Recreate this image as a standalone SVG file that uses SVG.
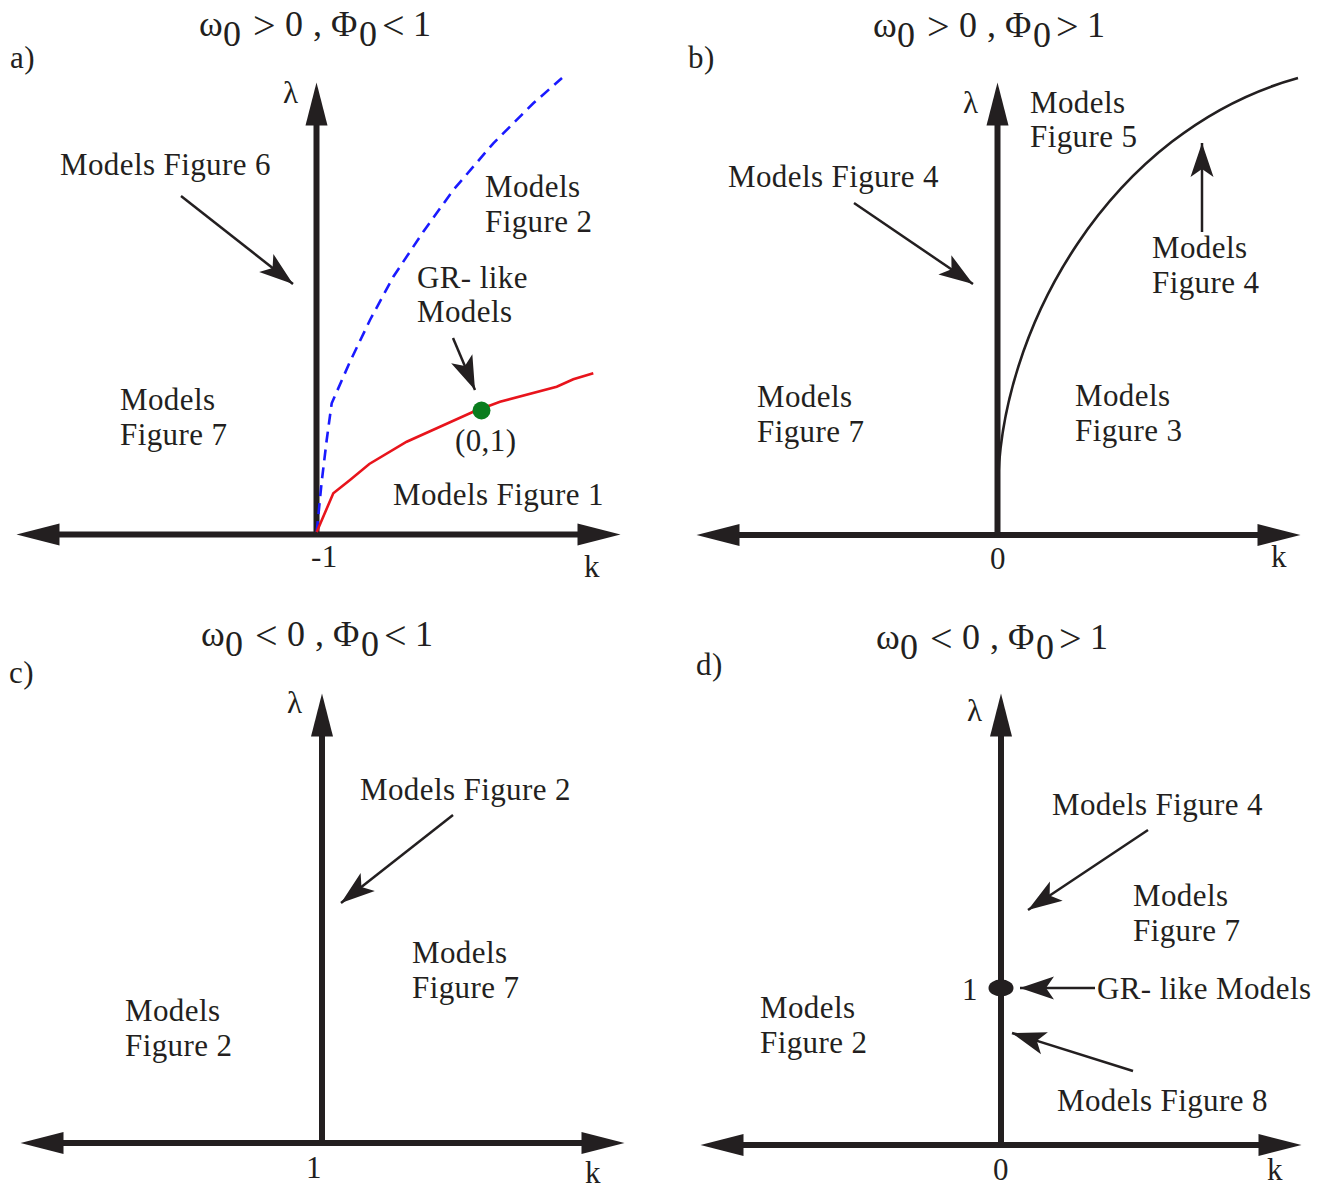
<svg xmlns="http://www.w3.org/2000/svg" width="1330" height="1190" viewBox="0 0 1330 1190">
<style>
text{font-family:"Liberation Serif","Times New Roman",serif;fill:#231f20}
.t{font-size:31px;letter-spacing:0.4px}
.ti{font-size:36px}
.op{font-size:40px}
.ax{stroke:#231f20;stroke-width:6;fill:none;marker-start:url(#axh);marker-end:url(#axh)}
.vx{stroke:#231f20;stroke-width:6;fill:none;marker-end:url(#axh)}
.pt{stroke:#231f20;stroke-width:2.5;fill:none;marker-end:url(#pth)}
</style>
<defs>
<marker id="axh" markerUnits="userSpaceOnUse" viewBox="-1 -12 45 24" markerWidth="45" markerHeight="24" refX="0.5" refY="0" orient="auto-start-reverse">
<path d="M0,-11 L43,0 L0,11 Z" fill="#231f20"/>
</marker>
<marker id="pth" markerUnits="userSpaceOnUse" viewBox="-2 -13 40 26" markerWidth="40" markerHeight="26" refX="34" refY="0" orient="auto">
<path d="M34,0 L0,-11.5 L8,0 L0,11.5 Z" fill="#231f20"/>
</marker>
<g id="title-tpl">
<text class="ti" x="0" y="0">ω</text>
<text class="ti" x="24" y="10">0</text>
<text class="ti" x="86" y="0">0</text>
<text class="ti" x="114" y="0">,</text>
<text class="ti" x="132" y="0">Φ</text>
<text class="ti" x="160" y="10">0</text>
<text class="ti" x="214" y="0">1</text>
</g>
</defs>
<rect width="1330" height="1190" fill="#ffffff"/>

<g id="connectors">
<!-- panel a axes -->
<line class="ax" x1="59" y1="534.5" x2="578" y2="534.5"/>
<line class="vx" x1="316.5" y1="537" x2="316.5" y2="125"/>
<!-- panel b axes -->
<line class="ax" x1="739" y1="535" x2="1258" y2="535"/>
<line class="vx" x1="997.5" y1="538" x2="997.5" y2="125"/>
<!-- panel c axes -->
<line class="ax" x1="63" y1="1143" x2="582" y2="1143"/>
<line class="vx" x1="322" y1="1146" x2="322" y2="736"/>
<!-- panel d axes -->
<line class="ax" x1="743" y1="1145" x2="1259" y2="1145"/>
<line class="vx" x1="1001" y1="1148" x2="1001" y2="736"/>

<!-- panel a curves -->
<polyline points="316.7,532 321.7,481.7 326.7,440 331.7,403.3 350,361.7 370,320 393.3,276.7 423.3,231.7 453.3,190 493.3,143.3 533.3,103.3 562,78" fill="none" stroke="#1a1aff" stroke-width="2.6" stroke-dasharray="11,7"/>
<polyline points="316.7,532 333.3,493.3 350,480 369.3,464 406.7,441.7 436.7,428.3 473.3,411.7 500,401.7 556.7,386.7 573.3,379.3 593.3,373.3" fill="none" stroke="#e8141c" stroke-width="2.6"/>
<!-- panel b curve -->
<path d="M998,492 C998,330 1110,130 1298,78" fill="none" stroke="#231f20" stroke-width="2.6"/>

<!-- pointer arrows -->
<line class="pt" x1="181" y1="196" x2="293" y2="284"/>
<line class="pt" x1="453" y1="338" x2="475" y2="390"/>
<line class="pt" x1="854" y1="203" x2="973" y2="284"/>
<line class="pt" x1="1202" y1="232" x2="1202" y2="143"/>
<line class="pt" x1="453" y1="815" x2="341" y2="903"/>
<line class="pt" x1="1148" y1="830" x2="1028" y2="910"/>
<line class="pt" x1="1095" y1="988" x2="1020" y2="988"/>
<line class="pt" x1="1133" y1="1071" x2="1012" y2="1033"/>
</g>

<!-- Panel a -->
<g id="panel-a">
<text class="t" x="10" y="68">a)</text>
<g id="title-a" transform="translate(199,36)">
<use href="#title-tpl"/>
<text class="op" x="54" y="3">&gt;</text>
<text class="op" x="183" y="3">&lt;</text>
</g>
<text class="t" x="283" y="103">λ</text>
<g id="a-fig6"><text class="t" x="60" y="175">Models Figure 6</text></g>
<g id="a-fig2"><text class="t" x="485" y="197">Models</text><text class="t" x="485" y="232">Figure 2</text></g>
<g id="a-gr"><text class="t" x="417" y="288">GR- like</text><text class="t" x="417" y="322">Models</text></g>
<g id="a-fig7"><text class="t" x="120" y="410">Models</text><text class="t" x="120" y="445">Figure 7</text></g>
<g id="a-point"><circle cx="481.5" cy="410.5" r="9" fill="#0a7d1e"/><text class="t" x="455" y="451">(0,1)</text></g>
<g id="a-fig1"><text class="t" x="393" y="505">Models Figure 1</text></g>
<text class="t" x="311" y="567">-1</text>
<text class="t" x="584" y="577">k</text>
</g>

<!-- Panel b -->
<g id="panel-b">
<text class="t" x="688" y="68">b)</text>
<g id="title-b" transform="translate(873,37)">
<use href="#title-tpl"/>
<text class="op" x="54" y="3">&gt;</text>
<text class="op" x="183" y="3">&gt;</text>
</g>
<text class="t" x="963" y="113">λ</text>
<g id="b-fig5"><text class="t" x="1030" y="113">Models</text><text class="t" x="1030" y="147">Figure 5</text></g>
<g id="b-fig4a"><text class="t" x="728" y="187">Models Figure 4</text></g>
<g id="b-fig4b"><text class="t" x="1152" y="258">Models</text><text class="t" x="1152" y="293">Figure 4</text></g>
<g id="b-fig7"><text class="t" x="757" y="407">Models</text><text class="t" x="757" y="442">Figure 7</text></g>
<g id="b-fig3"><text class="t" x="1075" y="406">Models</text><text class="t" x="1075" y="441">Figure 3</text></g>
<text class="t" x="990" y="569">0</text>
<text class="t" x="1271" y="567">k</text>
</g>

<!-- Panel c -->
<g id="panel-c">
<text class="t" x="9" y="683">c)</text>
<g id="title-c" transform="translate(201,646)">
<use href="#title-tpl"/>
<text class="op" x="54" y="3">&lt;</text>
<text class="op" x="183" y="3">&lt;</text>
</g>
<text class="t" x="287" y="713">λ</text>
<g id="c-fig2a"><text class="t" x="360" y="800">Models Figure 2</text></g>
<g id="c-fig7"><text class="t" x="412" y="963">Models</text><text class="t" x="412" y="998">Figure 7</text></g>
<g id="c-fig2b"><text class="t" x="125" y="1021">Models</text><text class="t" x="125" y="1056">Figure 2</text></g>
<text class="t" x="306" y="1178">1</text>
<text class="t" x="585" y="1183">k</text>
</g>

<!-- Panel d -->
<g id="panel-d">
<text class="t" x="696" y="675">d)</text>
<g id="title-d" transform="translate(876,649)">
<use href="#title-tpl"/>
<text class="op" x="54" y="3">&lt;</text>
<text class="op" x="183" y="3">&gt;</text>
</g>
<text class="t" x="967" y="721">λ</text>
<g id="d-fig4"><text class="t" x="1052" y="815">Models Figure 4</text></g>
<g id="d-fig7"><text class="t" x="1133" y="906">Models</text><text class="t" x="1133" y="941">Figure 7</text></g>
<g id="d-gr"><ellipse cx="1001" cy="988" rx="12.5" ry="8.5" fill="#231f20"/><text class="t" x="962" y="1000">1</text><text class="t" x="1097" y="999">GR- like Models</text></g>
<g id="d-fig2"><text class="t" x="760" y="1018">Models</text><text class="t" x="760" y="1053">Figure 2</text></g>
<g id="d-fig8"><text class="t" x="1057" y="1111">Models Figure 8</text></g>
<text class="t" x="993" y="1180">0</text>
<text class="t" x="1267" y="1180">k</text>
</g>
</svg>
